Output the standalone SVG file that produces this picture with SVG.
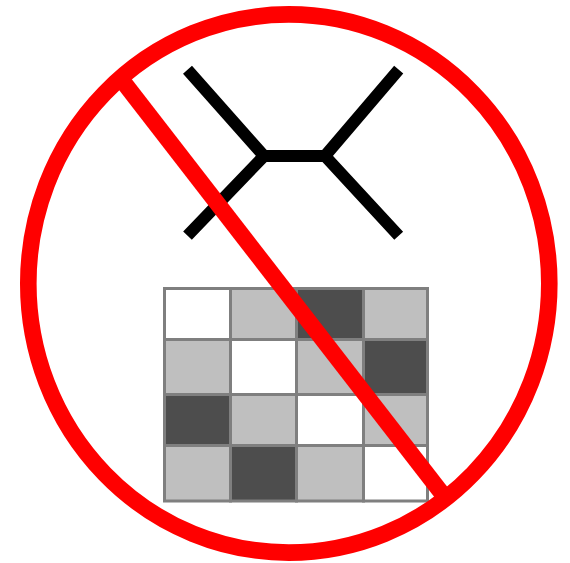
<svg xmlns="http://www.w3.org/2000/svg" width="570" height="563" viewBox="0 0 570 563">
<style>
.c{stroke:#7f7f7f;stroke-width:3}
.w{fill:#fff}.g{fill:#bfbfbf}.d{fill:#4d4d4d}
.t{fill:none;stroke:#000;stroke-width:12}
.r{fill:none;stroke:#f00;stroke-width:16.600}
</style>
<g id="tree"><path class="t" d="M187.500 69.700L264 156H325L398.700 69.700M187.500 235.700L264 156M325 156L398.700 235.700"/></g>
<g id="matrix">
<rect class="c w" x="164.500" y="288.500" width="66" height="51"/>
<rect class="c g" x="230.500" y="288.500" width="66" height="51"/>
<rect class="c d" x="296.500" y="288.500" width="67" height="51"/>
<rect class="c g" x="363.500" y="288.500" width="64" height="51"/>
<rect class="c g" x="164.500" y="339.500" width="66" height="55"/>
<rect class="c w" x="230.500" y="339.500" width="66" height="55"/>
<rect class="c g" x="296.500" y="339.500" width="67" height="55"/>
<rect class="c d" x="363.500" y="339.500" width="64" height="55"/>
<rect class="c d" x="164.500" y="394.500" width="66" height="51"/>
<rect class="c g" x="230.500" y="394.500" width="66" height="51"/>
<rect class="c w" x="296.500" y="394.500" width="67" height="51"/>
<rect class="c g" x="363.500" y="394.500" width="64" height="51"/>
<rect class="c g" x="164.500" y="445.500" width="66" height="55.500"/>
<rect class="c d" x="230.500" y="445.500" width="66" height="55.500"/>
<rect class="c g" x="296.500" y="445.500" width="67" height="55.500"/>
<rect class="c w" x="363.500" y="445.500" width="64" height="55.500"/>
</g>
<g id="prohibition"><ellipse class="r" cx="288.800" cy="283.500" rx="260.500" ry="269.100"/><path class="r" d="M120 77.700L446.300 499"/></g>
</svg>
